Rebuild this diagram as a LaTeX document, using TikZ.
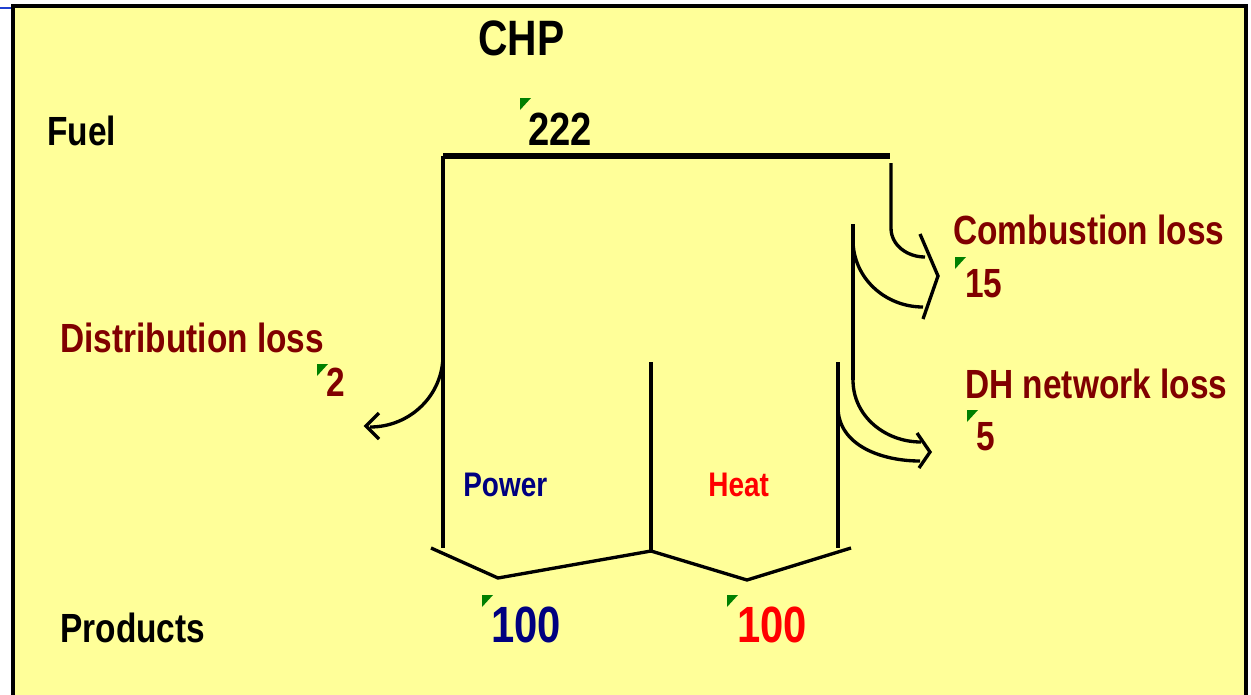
\documentclass[tikz,border=0pt]{standalone}
\usepackage{fontspec}
\setmainfont{Liberation Sans}[FakeStretch=0.82]
\usepackage{tikz}
\usetikzlibrary{arrows.meta,calc}
\definecolor{Pad}{HTML}{FFFF99}
\definecolor{Loss}{HTML}{800000}
\definecolor{Navy}{HTML}{000080}
\definecolor{Hot}{HTML}{FF0000}
\definecolor{Flag}{HTML}{008000}
\definecolor{Edge}{HTML}{2040D0}

\begin{document}
\begin{tikzpicture}[
  x=0.02cm, y=-0.02cm,
  txt/.style={anchor=base west,inner sep=0pt,font=\bfseries\fontsize{23.2}{25}\selectfont},
  head/.style={txt,font=\bfseries\fontsize{28.3}{30}\selectfont},
  big/.style={txt,font=\bfseries\fontsize{29}{31}\selectfont},
  small/.style={txt,font=\bfseries\fontsize{19.4}{22}\selectfont},
  flow/.style={line width=1.9pt,draw=black},
  tip/.style={line width=1.9pt,draw=black,line join=miter}
]
\useasboundingbox (0,0) rectangle (1251,694);
% frame
\fill[Pad] (13,6) rectangle (1246,700);
\draw[line width=2.2pt] (13,700) -- (13,6) -- (1246,6) -- (1246,700);
\draw[Edge,line width=0.8pt] (0,8) -- (11,8);

% labels
\node[head] (chp) at (478,55) {CHP};
\node[txt] (fuel) at (47,145) {Fuel};
\node[txt,font=\bfseries\fontsize{26.5}{28}\selectfont] (fuelval) at (528,145) {222};
\node[txt,Loss] (combloss) at (953,244) {Combustion loss};
\node[txt,Loss] (combval) at (965,297) {15};
\node[txt,Loss] (distloss) at (60,352) {Distribution loss};
\node[txt,Loss] (distval) at (326,396) {2};
\node[txt,Loss] (dhloss) at (965,398) {DH network loss};
\node[txt,Loss] (dhval) at (976,450) {5};
\node[small,Navy] (power) at (463,496) {Power};
\node[small,Hot] (heat) at (708,496) {Heat};
\node[txt] (products) at (60,642) {Products};
\node[big,Navy] (powerval) at (491,642) {100};
\node[big,Hot] (heatval) at (737,642) {100};

% green cell flags
\fill[Flag] (520,98) -- ++(11,0) -- ++(-11,12) -- cycle;
\fill[Flag] (955,257) -- ++(11,0) -- ++(-11,12) -- cycle;
\fill[Flag] (317,364) -- ++(11,0) -- ++(-11,12) -- cycle;
\fill[Flag] (967,410) -- ++(11,0) -- ++(-11,12) -- cycle;
\fill[Flag] (482,595) -- ++(11,0) -- ++(-11,12) -- cycle;
\fill[Flag] (727,595) -- ++(11,0) -- ++(-11,12) -- cycle;

% fuel band
\draw[line width=3.2pt] (443,156) -- (890,156);
\draw[flow] (443,156) -- (443,548);
\draw[flow] (651,362) -- (651,551);
\draw[flow] (838,362) -- (838,548);
\draw[flow,line join=round] (431,548) -- (498,578) -- (651,551) -- (747,580) -- (851,548);

% combustion loss
\draw[flow] (891,163) -- (891,228) to[out=-90,in=180] (925,257);
\draw[flow] (853,224) -- (853,380);
\draw[flow] (853,240) to[out=-90,in=180] (923,307);
\draw[tip] (920,234) -- (938,276) -- (923,319);

% DH network loss
\draw[flow] (853,380) to[out=-90,in=180] (921,442);
\draw[flow] (838,407) to[out=-90,in=180] (920,461);
\draw[tip] (917,433) -- (930,452) -- (919,468);

% distribution loss
\draw[flow] (443,355) to[out=-90,in=0] (370,427);
\draw[tip] (379,413) -- (366,426) -- (379,439);
\end{tikzpicture}
\end{document}
